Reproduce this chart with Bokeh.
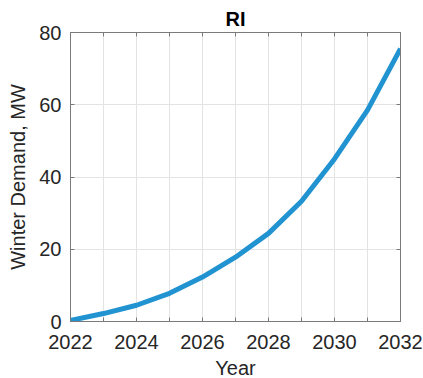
from bokeh.plotting import figure
from bokeh.models import Range1d, FixedTicker, LinearAxis, Title
from bokeh.embed import file_html
from bokeh.resources import INLINE

# Projected winter demand for RI
years = [2022, 2023, 2024, 2025, 2026, 2027, 2028, 2029, 2030, 2031, 2032]
demand_mw = [0.3, 2.2, 4.5, 7.8, 12.3, 17.8, 24.4, 33.3, 45.0, 58.5, 75.5]

x_ticks = [2022, 2024, 2026, 2028, 2030, 2032]
x_minor = [2023, 2025, 2027, 2029, 2031]
y_ticks = [0, 20, 40, 60, 80]

FONT = "Liberation Sans"
TEXT = "#262626"
BOX = "#7a7a7a"

p = figure(width=423, height=378, output_backend="svg", toolbar_location=None,
           x_range=Range1d(2022, 2032), y_range=Range1d(0, 80),
           min_border_left=70, min_border_right=23, min_border_top=32,
           min_border_bottom=57)
p.frame_width = 330
p.frame_height = 289

p.title = Title(text="RI", align="center", text_font=FONT, text_font_size="20px",
                text_font_style="bold", text_color="#000000", offset=0)
p.title.standoff = 5

p.line(years, demand_mw, line_color="#2193d1", line_width=5)


def style_axis(ax):
    ax.axis_line_color = BOX
    ax.major_tick_line_color = BOX
    ax.minor_tick_line_color = BOX
    ax.major_tick_in = 4
    ax.major_tick_out = 0
    ax.minor_tick_in = 4
    ax.minor_tick_out = 0
    ax.major_label_text_font = FONT
    ax.major_label_text_font_size = "20px"
    ax.major_label_text_color = TEXT
    ax.axis_label_text_font = FONT
    ax.axis_label_text_font_size = "20px"
    ax.axis_label_text_font_style = "normal"
    ax.axis_label_text_color = TEXT


xa = p.xaxis[0]
xa.ticker = FixedTicker(ticks=x_ticks, minor_ticks=x_minor)
xa.axis_label = "Year"
xa.major_label_standoff = 13
xa.axis_label_standoff = 5
style_axis(xa)

ya = p.yaxis[0]
ya.ticker = FixedTicker(ticks=y_ticks)
ya.axis_label = "Winter Demand, MW"
ya.major_label_standoff = 9
ya.axis_label_standoff = 7
style_axis(ya)

# Box axes on the top and right: tick marks only
top = LinearAxis(ticker=FixedTicker(ticks=x_ticks, minor_ticks=x_minor))
style_axis(top)
top.major_label_overrides = {t: "" for t in x_ticks}
p.add_layout(top, "above")
right = LinearAxis(ticker=FixedTicker(ticks=y_ticks))
style_axis(right)
right.major_label_overrides = {t: "" for t in y_ticks}
p.add_layout(right, "right")

p.xgrid.ticker = FixedTicker(ticks=years)
p.ygrid.ticker = FixedTicker(ticks=y_ticks)
p.grid.grid_line_color = "#e3e3e3"
p.grid.grid_line_width = 1
p.outline_line_color = BOX
p.background_fill_color = "white"
p.border_fill_color = "white"

open("out.html", "w").write(file_html(p, INLINE))
